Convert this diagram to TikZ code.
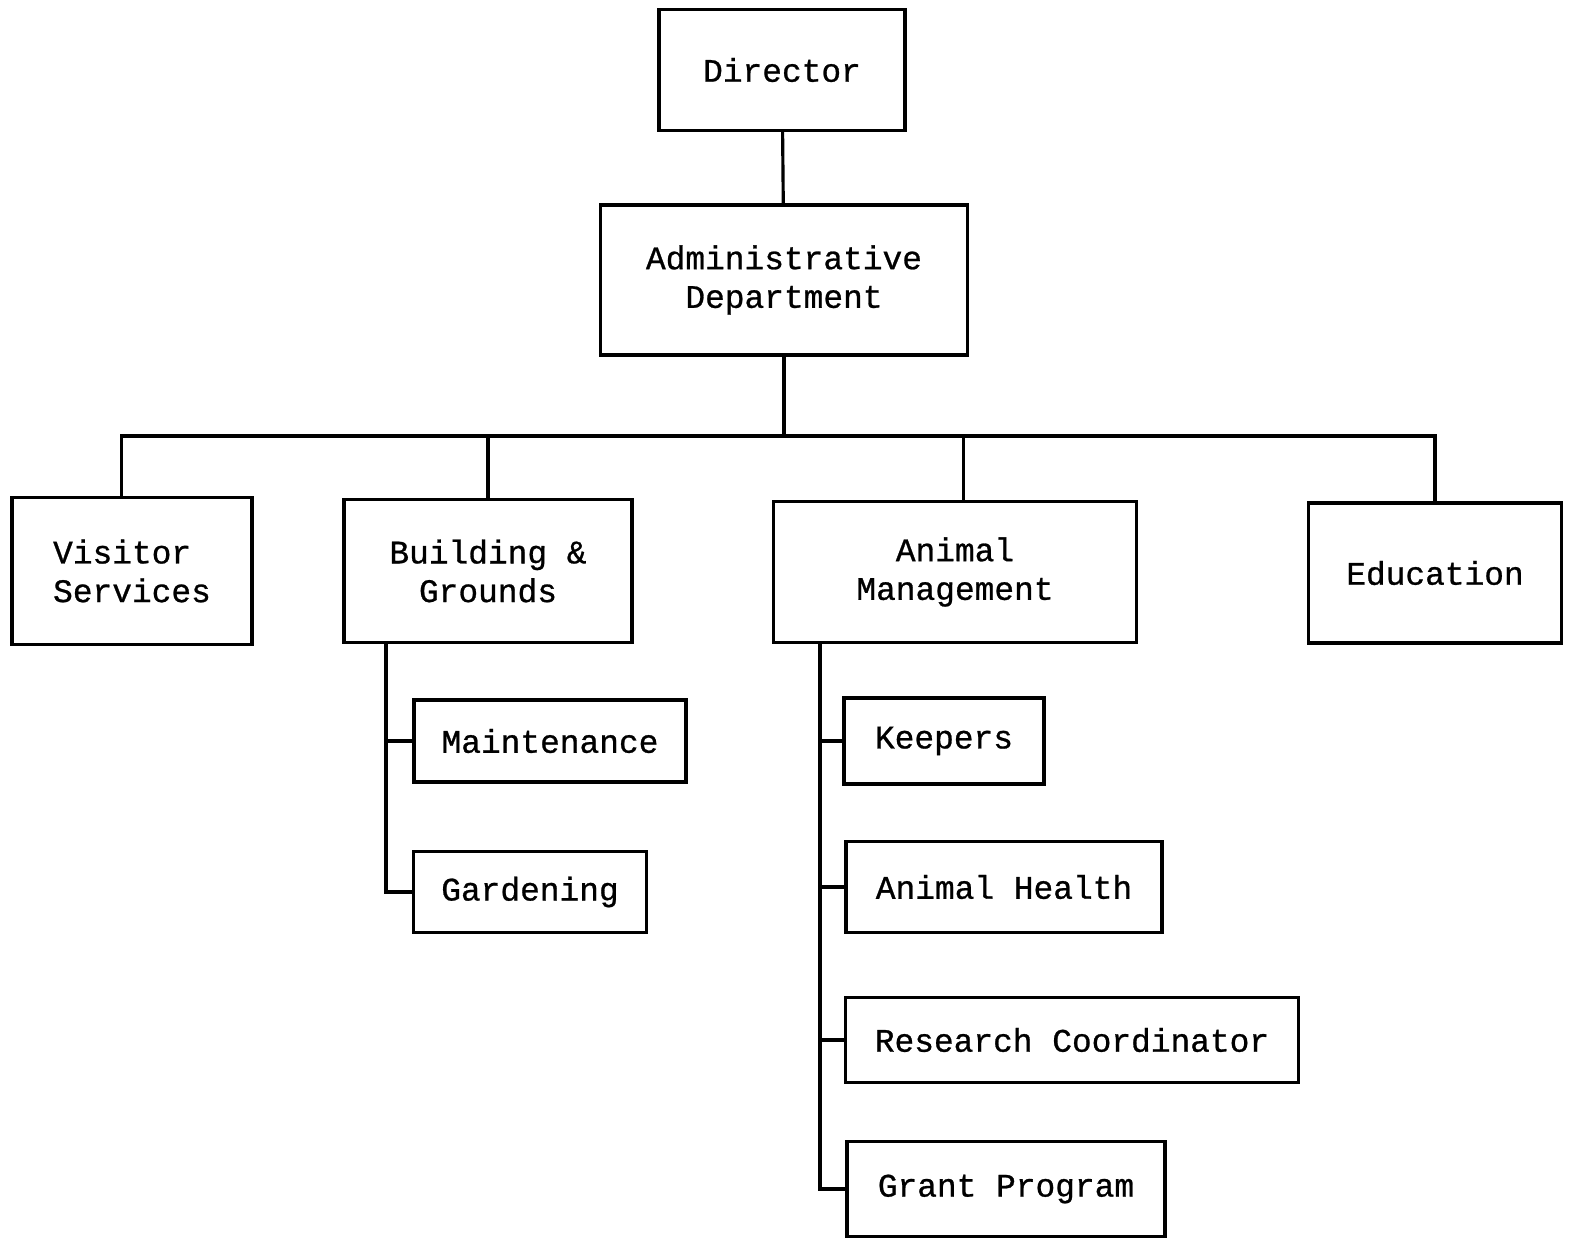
\documentclass[tikz,border=0pt]{standalone}
\usepackage{fontspec}
\newfontfamily\boxfont[FakeBold=0.8]{Liberation Mono}
\usetikzlibrary{positioning}

\begin{document}
\begin{tikzpicture}[
    x=0.02cm, y=-0.02cm,
    box/.style={rectangle, draw, line width=1.8pt, inner sep=0pt, align=center, font=\boxfont\fontsize{18.7}{22}\selectfont},
    link/.style={line width=1.8pt}
]
\useasboundingbox (0,0) rectangle (1577,1240);

% top levels
\node[box, minimum width=4.92cm, minimum height=2.42cm] (director) at (782,70) {Director};
\node[box, minimum width=7.34cm, minimum height=3.0cm] (admin) at (784,280) {Administrative\\Department};

% departments
\node[box, minimum width=4.8cm, minimum height=2.94cm, align=left] (visitor) at (132,571) {Visitor\\Services};
\node[box, minimum width=5.76cm, minimum height=2.86cm] (building) at (488,571) {Building \&\\Grounds};
\node[box, minimum width=7.26cm, minimum height=2.82cm] (animal) at (955,572) {Animal\\Management};
\node[box, minimum width=5.06cm, minimum height=2.8cm] (education) at (1435,573) {Education};

% sections
\node[box, minimum width=5.44cm, minimum height=1.64cm] (maintenance) at (550,741) {Maintenance};
\node[box, minimum width=4.66cm, minimum height=1.62cm] (gardening) at (530,892) {Gardening};
\node[box, minimum width=4.0cm, minimum height=1.72cm] (keepers) at (944,741) {Keepers};
\node[box, minimum width=6.32cm, minimum height=1.82cm] (health) at (1004,887) {Animal Health};
\node[box, minimum width=9.06cm, minimum height=1.70cm] (research) at (1072,1040) {Research Coordinator};
\node[box, minimum width=6.36cm, minimum height=1.9cm] (grant) at (1006,1189) {Grant Program};

\coordinate (bus) at (0,436);
\coordinate (bgspine) at (386,643);
\coordinate (amspine) at (820,643);

\draw[link] (director) -- (admin);
\draw[link] (admin) -- (admin |- bus);
\draw[link] ([xshift=-6]visitor.north) -- ([xshift=-6]visitor.north |- bus) -- (education.north |- bus) -- (education.north);
\draw[link] (building.north) -- (building.north |- bus);
\draw[link] ([xshift=5]animal.north) -- ([xshift=5]animal.north |- bus);

\draw[link] (bgspine) -- (bgspine |- gardening.west) -- (gardening.west);
\draw[link] (bgspine |- maintenance.west) -- (maintenance.west);

\draw[link] (amspine) -- (amspine |- grant.west) -- (grant.west);
\draw[link] (amspine |- keepers.west) -- (keepers.west);
\draw[link] (amspine |- health.west) -- (health.west);
\draw[link] (amspine |- research.west) -- (research.west);

\end{tikzpicture}
\end{document}
